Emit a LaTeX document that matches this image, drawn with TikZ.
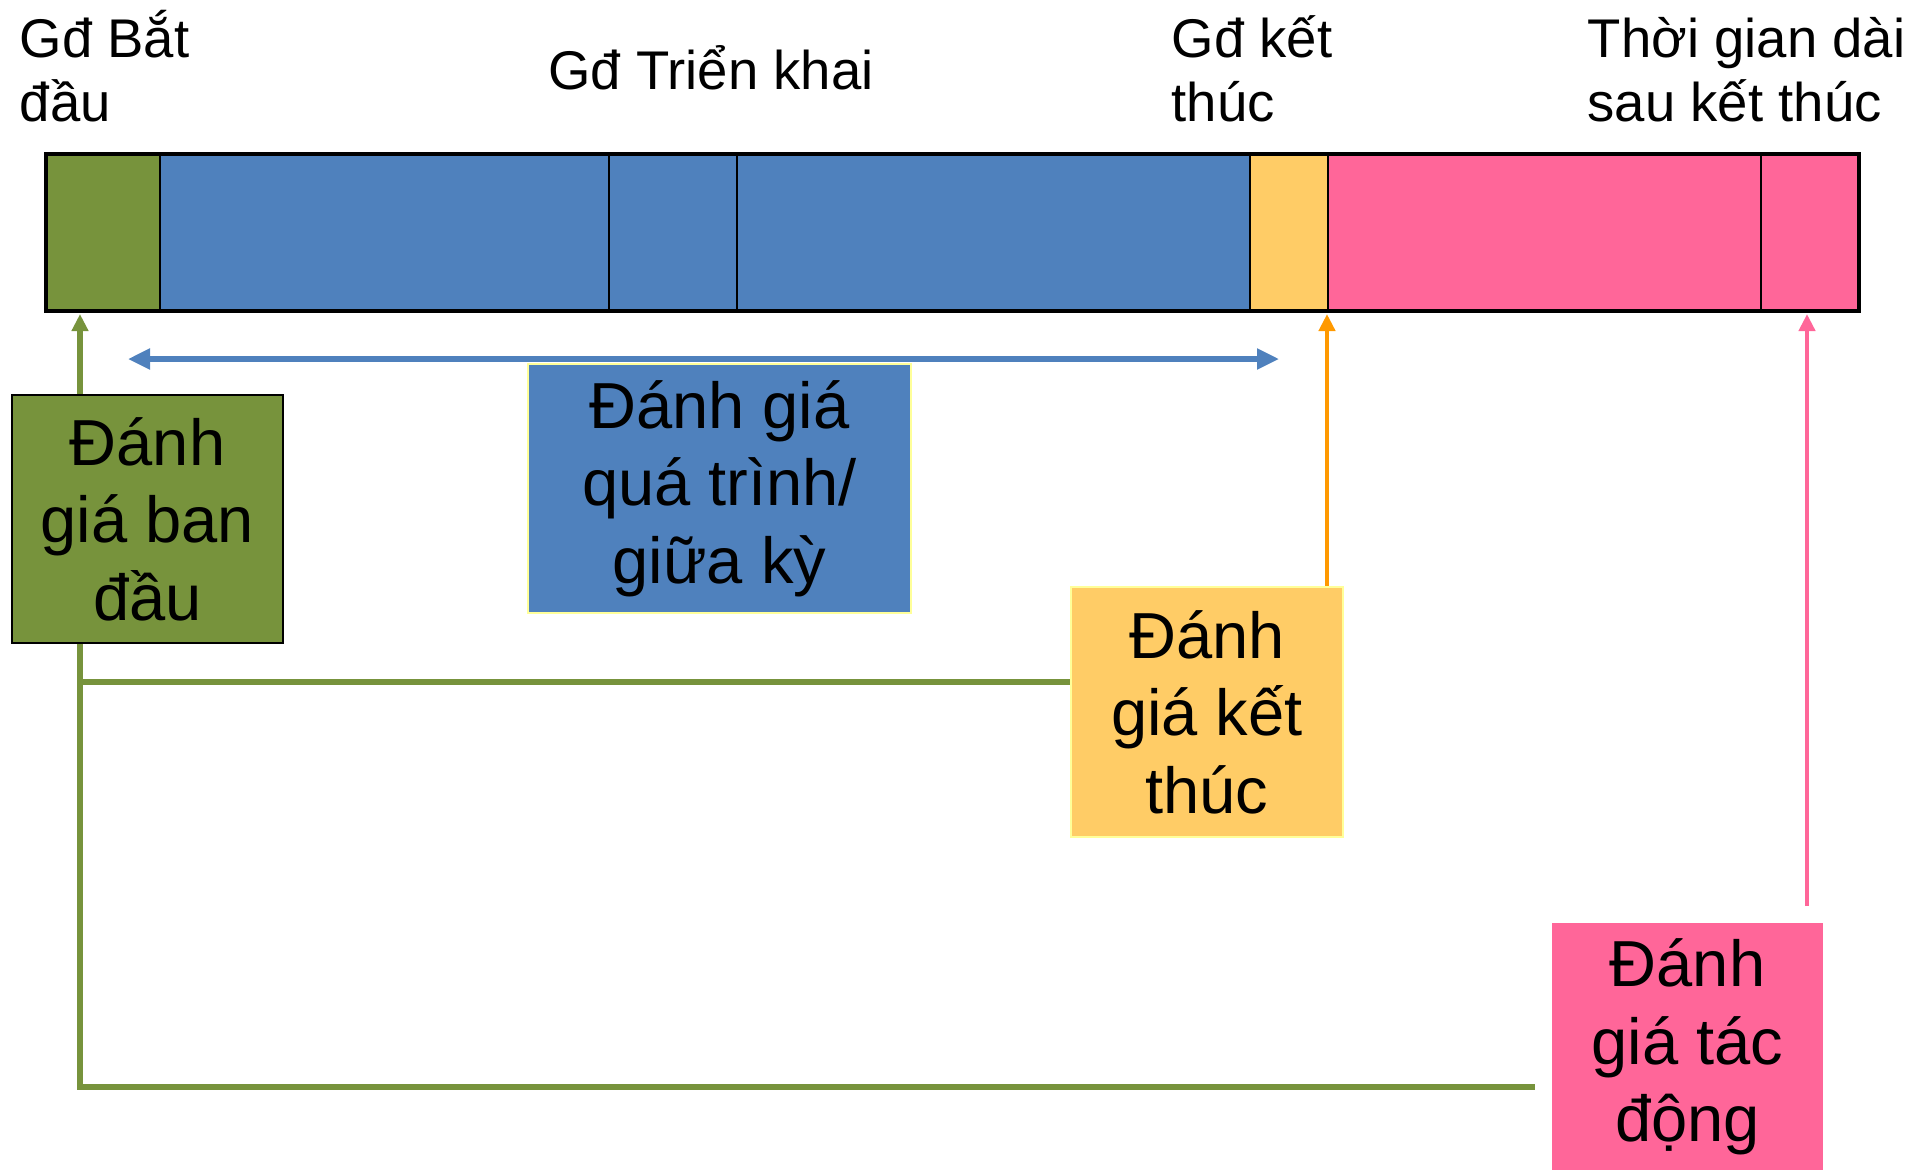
\documentclass[tikz,border=0pt]{standalone}
\usepackage{fontspec}
\setmainfont{Liberation Sans}
\usetikzlibrary{arrows.meta}

\definecolor{cgreen}{HTML}{77933C}
\definecolor{cblue}{HTML}{4F81BD}
\definecolor{cyellow}{HTML}{FFCC66}
\definecolor{cpink}{HTML}{FF6699}
\definecolor{corange}{HTML}{FF9900}
\definecolor{cedge}{HTML}{FFFF99}

\begin{document}
\begin{tikzpicture}[x=0.01cm, y=-0.01cm,
    seg/.style={rectangle, draw=black, line width=0.6pt, anchor=north west, inner sep=0pt, minimum height=1.55cm},
    phase/.style={anchor=base west, align=left, inner sep=0pt, font=\fontsize{15.5}{18}\selectfont},
    evalbox/.style={rectangle, text centered, align=center, inner sep=0pt, minimum width=2.71cm, minimum height=2.48cm, font=\fontsize{18.5}{22}\selectfont},
    link/.style={line width=1.7pt, color=cgreen}]

    \useasboundingbox (0,0) rectangle (1907,1169);

    % the time bar
    \node (sbd) [seg, fill=cgreen, minimum width=1.13cm] at (46,154) {};
    \node (stk1) [seg, fill=cblue, minimum width=4.49cm] at (159,154) {};
    \node (stk2) [seg, fill=cblue, minimum width=1.28cm] at (608,154) {};
    \node (stk3) [seg, fill=cblue, minimum width=5.13cm] at (736,154) {};
    \node (skt) [seg, fill=cyellow, minimum width=0.78cm] at (1249,154) {};
    \node (sdai1) [seg, fill=cpink, minimum width=4.33cm] at (1327,154) {};
    \node (sdai2) [seg, fill=cpink, minimum width=0.97cm] at (1760,154) {};
    \draw[line width=1.3pt] (sbd.north west) rectangle (sdai2.south east);

    % phase labels (base = last line)
    \node (lbd) [phase] at (19,121) {Gđ Bắt\\đầu};
    \node (ltk) [phase, anchor=base] at (711,89) {Gđ Triển khai};
    \node (lkt) [phase] at (1171,121) {Gđ kết\\thúc};
    \node (ldai) [phase] at (1587,121) {Thời gian dài\\sau kết thúc};

    % evaluation boxes
    \node (gbox) [evalbox, fill=cgreen, draw=black, line width=0.8pt] at (147.5,519) {Đánh\\giá ban\\đầu};
    \node (bbox) [evalbox, fill=cblue, draw=cedge, line width=0.6pt, minimum width=3.83cm, minimum height=2.49cm] at (719.5,488.5) {Đánh giá\\quá trình/\\giữa kỳ};
    \node (ybox) [evalbox, fill=cyellow, draw=cedge, line width=0.6pt, minimum width=2.72cm, minimum height=2.5cm] at (1207,712) {Đánh\\giá kết\\thúc};
    \node (pbox) [evalbox, fill=cpink] at (1687.5,1047) {Đánh\\giá tác\\động};

    % connectors
    \coordinate (gtip) at (80,314);
    \coordinate (gmid) at (80,682);
    \coordinate (gend) at (80,1087);
    \coordinate (pend) at (1535,1087);
    \draw[link, -{Triangle[length=0.17cm, width=0.16cm]}] (gbox.north -| gtip) -- (gtip);
    \draw[link] (gbox.south -| gtip) -- (gend) -- (pend);
    \draw[link] (gmid) -- (gmid -| ybox.west);

    \coordinate (bl) at (128,359);
    \coordinate (br) at (1279,359);
    \draw[line width=1.5pt, cblue, {Triangle[length=0.22cm, width=0.2cm]}-{Triangle[length=0.22cm, width=0.2cm]}] (bl) -- (br);

    \coordinate (otip) at (1327,314);
    \draw[line width=1.4pt, corange, -{Triangle[length=0.17cm, width=0.16cm]}] (ybox.north -| otip) -- (otip);

    \coordinate (ptip) at (1807,314);
    \coordinate (pfoot) at (1807,906);
    \draw[line width=1.4pt, cpink, -{Triangle[length=0.17cm, width=0.16cm]}] (pfoot) -- (ptip);

\end{tikzpicture}
\end{document}
